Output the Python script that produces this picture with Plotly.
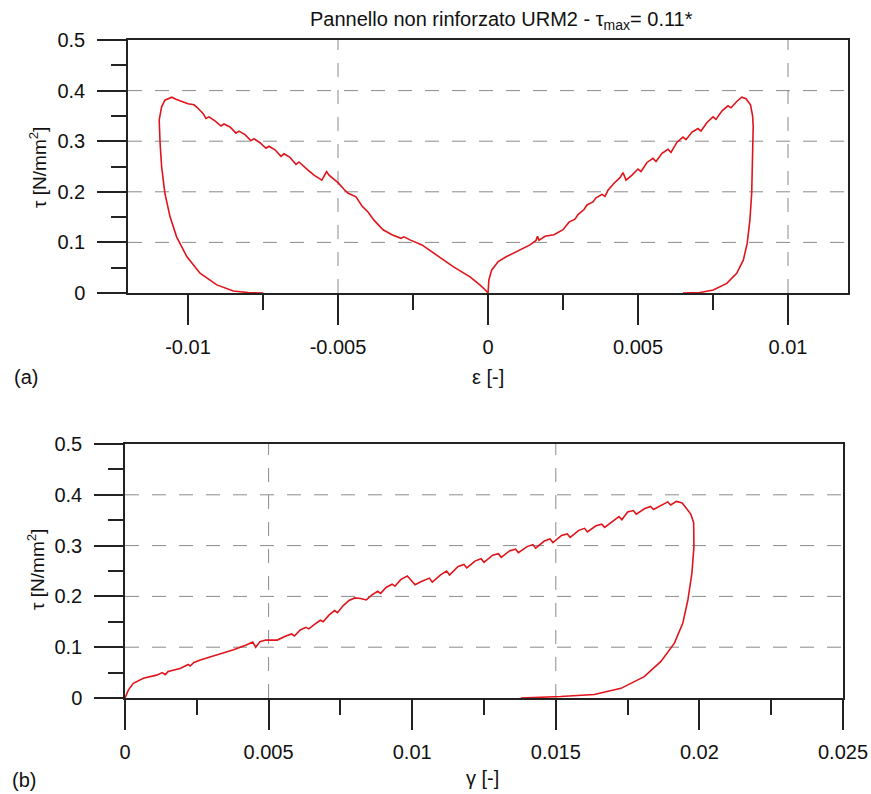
import plotly.graph_objects as go

# ---------------- data ----------------
EPS_RIGHT = [0, 0.00003, 0.00012, 0.00034, 0.00062, 0.00107, 0.0014, 0.0016, 0.00165, 0.0017,
             0.0019, 0.0022, 0.0025, 0.0027, 0.0029, 0.0030, 0.0032, 0.0033, 0.0035, 0.0036,
             0.0038, 0.0039, 0.0040, 0.0042, 0.0044, 0.0045, 0.0046, 0.0048, 0.0050, 0.0051,
             0.0053, 0.0055, 0.0056, 0.0058, 0.0060, 0.0061, 0.0063, 0.0065, 0.0066, 0.0068,
             0.0070, 0.0071, 0.0073, 0.0075, 0.0076, 0.0078, 0.0080, 0.0081, 0.0083, 0.00846,
             0.0086, 0.00875, 0.00882, 0.00884, 0.00882, 0.00879, 0.00873, 0.00864, 0.00851,
             0.00829, 0.00796, 0.00751, 0.00707, 0.0065]
TAU_RIGHT = [0, 0.026, 0.045, 0.062, 0.072, 0.085, 0.095, 0.104, 0.112, 0.104,
             0.112, 0.115, 0.125, 0.140, 0.146, 0.155, 0.165, 0.174, 0.180, 0.188,
             0.195, 0.191, 0.203, 0.217, 0.228, 0.238, 0.223, 0.233, 0.245, 0.240,
             0.258, 0.266, 0.260, 0.276, 0.284, 0.278, 0.298, 0.308, 0.303, 0.318,
             0.325, 0.320, 0.337, 0.348, 0.343, 0.360, 0.370, 0.366, 0.379, 0.387,
             0.384, 0.372, 0.350, 0.329, 0.250, 0.197, 0.144, 0.098, 0.065,
             0.039, 0.019, 0.006, 0.001, 0]

EPS_LEFT = [0, -0.00004, -0.00027, -0.0006, -0.00116, -0.00171, -0.0022, -0.0026, -0.0028, -0.0029,
            -0.0032, -0.0035, -0.0038, -0.0040, -0.0042, -0.0044, -0.00466, -0.0048, -0.0050, -0.0053,
            -0.00538, -0.00554, -0.0058, -0.0060, -0.0062, -0.0063, -0.0064, -0.0066, -0.0068, -0.0069,
            -0.0071, -0.0073, -0.0074, -0.0076, -0.0078, -0.0079, -0.0081, -0.0083, -0.0084, -0.0086,
            -0.0088, -0.0089, -0.0091, -0.0093, -0.0094, -0.0095, -0.0097, -0.0098, -0.0100, -0.0102,
            -0.0104, -0.01054, -0.0107, -0.01077, -0.01088, -0.01096, -0.01093, -0.01088, -0.01077,
            -0.0106, -0.01038, -0.01004, -0.0096, -0.00904, -0.00849, -0.0080, -0.00749]
TAU_LEFT = [0, 0.003, 0.016, 0.032, 0.052, 0.075, 0.095, 0.105, 0.111, 0.108,
            0.115, 0.125, 0.144, 0.160, 0.172, 0.190, 0.197, 0.205, 0.218, 0.233,
            0.240, 0.223, 0.233, 0.243, 0.253, 0.259, 0.254, 0.268, 0.275, 0.270,
            0.283, 0.290, 0.286, 0.297, 0.305, 0.301, 0.313, 0.320, 0.316, 0.328,
            0.334, 0.330, 0.340, 0.348, 0.345, 0.355, 0.367, 0.372, 0.374, 0.378,
            0.383, 0.387, 0.383, 0.381, 0.368, 0.342, 0.296, 0.250, 0.197,
            0.151, 0.111, 0.072, 0.039, 0.016, 0.004, 0.001, 0]

GAMMA = [0, 0.00012, 0.00029, 0.00064, 0.0011, 0.0013, 0.0014, 0.0015, 0.00192, 0.0022,
         0.00227, 0.0024, 0.00262, 0.0032, 0.00378, 0.0042, 0.00445, 0.00455, 0.0047, 0.0049,
         0.0053, 0.0056, 0.0058, 0.0059, 0.0061, 0.0063, 0.0064, 0.0066, 0.0068, 0.0069,
         0.0071, 0.0073, 0.0074, 0.0076, 0.0078, 0.0080, 0.0082, 0.0084, 0.0086, 0.0088,
         0.0089, 0.0091, 0.0093, 0.0094, 0.0096, 0.00983, 0.0101, 0.0103, 0.0106, 0.0107,
         0.0110, 0.0112, 0.0113, 0.0116, 0.0118, 0.0119, 0.0122, 0.0124, 0.0125, 0.0128,
         0.0130, 0.0131, 0.0134, 0.0136, 0.0137, 0.0140, 0.0142, 0.0143, 0.0146, 0.0148,
         0.0149, 0.0152, 0.0154, 0.0155, 0.0158, 0.0160, 0.0161, 0.0164, 0.0166, 0.0167,
         0.0170, 0.0172, 0.0173, 0.0175, 0.0177, 0.0178, 0.0181, 0.0183, 0.0184, 0.0187,
         0.0189, 0.0190, 0.0192, 0.0194, 0.0195, 0.0197, 0.0198, 0.01981, 0.01974, 0.0196,
         0.01942, 0.01913, 0.01866, 0.01808, 0.01727, 0.01634, 0.01517, 0.01378]
TAU_GAMMA = [0, 0.016, 0.029, 0.039, 0.045, 0.050, 0.046, 0.052, 0.058, 0.066,
             0.063, 0.070, 0.075, 0.085, 0.095, 0.104, 0.110, 0.100, 0.111, 0.114,
             0.114, 0.122, 0.126, 0.122, 0.134, 0.139, 0.136, 0.145, 0.153, 0.150,
             0.163, 0.172, 0.168, 0.182, 0.192, 0.197, 0.196, 0.193, 0.203, 0.210,
             0.206, 0.218, 0.224, 0.220, 0.233, 0.240, 0.223, 0.229, 0.236, 0.228,
             0.243, 0.250, 0.242, 0.259, 0.263, 0.256, 0.270, 0.274, 0.267, 0.281,
             0.284, 0.277, 0.290, 0.293, 0.286, 0.298, 0.302, 0.295, 0.309, 0.313,
             0.306, 0.320, 0.323, 0.316, 0.330, 0.334, 0.327, 0.339, 0.342, 0.336,
             0.349, 0.357, 0.351, 0.366, 0.369, 0.362, 0.373, 0.377, 0.371, 0.381,
             0.386, 0.380, 0.387, 0.384, 0.376, 0.362, 0.345, 0.298, 0.246, 0.193,
             0.147, 0.108, 0.072, 0.042, 0.019, 0.007, 0.003, 0]

X_TICKS_A = [-0.01, -0.005, 0, 0.005, 0.01]
X_LABELS_A = ["-0.01", "-0.005", "0", "0.005", "0.01"]
X_MINOR_A = [-0.0075, -0.0025, 0.0025, 0.0075]
X_GRID_A = [-0.005, 0.01]
X_RANGE_A = [-0.012, 0.012]

X_TICKS_B = [0, 0.005, 0.01, 0.015, 0.02, 0.025]
X_LABELS_B = ["0", "0.005", "0.01", "0.015", "0.02", "0.025"]
X_MINOR_B = [0.0025, 0.0075, 0.0125, 0.0175, 0.0225]
X_GRID_B = [0.005, 0.015]
X_RANGE_B = [0, 0.025]

Y_TICKS = [0, 0.1, 0.2, 0.3, 0.4, 0.5]
Y_LABELS = ["0", "0.1", "0.2", "0.3", "0.4", "0.5"]
Y_MINOR = [0.05, 0.15, 0.25, 0.35, 0.45]
Y_GRID = [0.1, 0.2, 0.3, 0.4]
Y_RANGE = [0, 0.5]

TITLE = "Pannello non rinforzato URM2 - τ<sub>max</sub>= 0.11*"

# ---------------- figure ----------------
W, H = 871, 794
FONT = "Liberation Sans, Arial, sans-serif"
RED = "#e0141b"
AX = "#222222"
GRID = "#8a8a8a"


def px(x):
    return x / W


def py(y):
    return 1 - y / H


fig = go.Figure()
fig.add_trace(go.Scatter(x=EPS_LEFT, y=TAU_LEFT, mode="lines", line=dict(color=RED, width=1.6),
                         xaxis="x", yaxis="y", showlegend=False))
fig.add_trace(go.Scatter(x=EPS_RIGHT, y=TAU_RIGHT, mode="lines", line=dict(color=RED, width=1.6),
                         xaxis="x", yaxis="y", showlegend=False))
fig.add_trace(go.Scatter(x=GAMMA, y=TAU_GAMMA, mode="lines", line=dict(color=RED, width=1.6),
                         xaxis="x2", yaxis="y2", showlegend=False))


def xaxis(dom, anchor, rng, tv, tt, mv):
    return dict(domain=dom, anchor=anchor, range=rng, tickmode="array", tickvals=tv, ticktext=tt,
                ticks="outside", ticklen=30, tickwidth=1.5, tickcolor=AX,
                minor=dict(tickmode="array", tickvals=mv, ticks="outside", ticklen=15,
                           tickwidth=1.5, tickcolor=AX, showgrid=False),
                showline=True, linecolor=AX, linewidth=1.5, mirror=True, automargin=False,
                showgrid=False, zeroline=False, ticklabelstandoff=5,
                tickfont=dict(family=FONT, size=20, color="#111"), fixedrange=True)


def yaxis(dom, anchor):
    return dict(domain=dom, anchor=anchor, range=Y_RANGE, tickmode="array", tickvals=Y_TICKS,
                ticktext=Y_LABELS, ticks="outside", ticklen=29, tickwidth=1.5, tickcolor=AX,
                minor=dict(tickmode="array", tickvals=Y_MINOR, ticks="outside", ticklen=15,
                           tickwidth=1.5, tickcolor=AX, showgrid=False),
                showline=True, linecolor=AX, linewidth=1.5, mirror=True, automargin=False,
                showgrid=False, zeroline=False, ticklabelstandoff=8,
                tickfont=dict(family=FONT, size=20, color="#111"), fixedrange=True)


fig.update_layout(
    template="none",
    width=W, height=H, margin=dict(l=0, r=0, t=0, b=0, autoexpand=False),
    paper_bgcolor="white", plot_bgcolor="white",
    xaxis=xaxis([px(128), px(848)], "y", X_RANGE_A, X_TICKS_A, X_LABELS_A, X_MINOR_A),
    yaxis=yaxis([py(293), py(40)], "x"),
    xaxis2=xaxis([px(125), px(843)], "y2", X_RANGE_B, X_TICKS_B, X_LABELS_B, X_MINOR_B),
    yaxis2=yaxis([py(698), py(444)], "x2"),
    showlegend=False,
)

shapes = []
for v in Y_GRID:
    for xr, yr in (("x domain", "y"), ("x2 domain", "y2")):
        shapes.append(dict(type="line", xref=xr, yref=yr, x0=0, x1=1, y0=v, y1=v, layer="below",
                           line=dict(color=GRID, width=1, dash="14px,13px")))
for v in X_GRID_A:
    shapes.append(dict(type="line", xref="x", yref="y domain", x0=v, x1=v, y0=0, y1=1, layer="below",
                       line=dict(color=GRID, width=1, dash="14px,13px")))
for v in X_GRID_B:
    shapes.append(dict(type="line", xref="x2", yref="y2 domain", x0=v, x1=v, y0=0, y1=1, layer="below",
                       line=dict(color=GRID, width=1, dash="14px,13px")))
fig.update_layout(shapes=shapes)


def ann(text, x, y, size=20, angle=0, xanchor="center"):
    fig.add_annotation(text=text, x=px(x), y=py(y), xref="paper", yref="paper", showarrow=False,
                       textangle=angle, xanchor=xanchor, yanchor="middle",
                       font=dict(family=FONT, size=size, color="#111"))


ann(TITLE, 501, 20, size=20)
ann("τ [N/mm<sup>2</sup>]", 38, 168, size=19, angle=-90)
ann("τ [N/mm<sup>2</sup>]", 36, 570, size=19, angle=-90)
ann("ε [-]", 488, 377, size=20)
ann("γ [-]", 482, 778, size=20)
ann("(a)", 26, 377, size=20)
ann("(b)", 24, 780, size=20)

fig.write_html("out.html", config={"displayModeBar": False},
               post_script="document.body.style.margin='0';document.body.style.overflow='hidden';")
